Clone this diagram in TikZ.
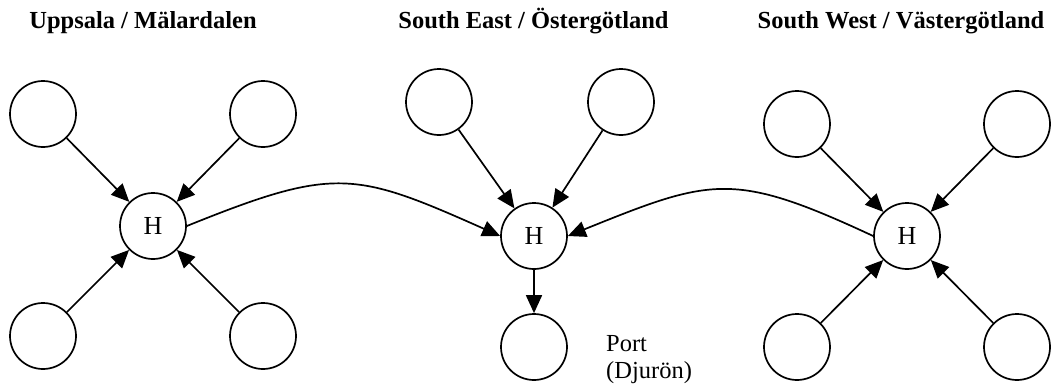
\documentclass[tikz,border=0pt]{standalone}
\usepackage{fontspec}
\setmainfont{Liberation Serif}
\usetikzlibrary{arrows.meta}
\begin{document}
\begin{tikzpicture}[x=1pt,y=-1pt,
  every node/.style={inner sep=0pt},
  ball/.style={circle,draw,line width=1.7pt,minimum size=66pt,inner sep=0pt},
  hub/.style={ball,font=\fontsize{26}{30}\selectfont},
  title/.style={font=\fontsize{24.5}{28}\selectfont\bfseries,anchor=base},
  link/.style={line width=1.7pt,-{Triangle[length=18pt,width=16pt]}},
  lbl/.style={font=\fontsize{24.5}{27}\selectfont,align=left,anchor=north west}]
\useasboundingbox (0,0) rectangle (1060,388);
% titles
\node[title] (t1) at (143,28) {Uppsala / Mälardalen};
\node[title] (t2) at (533.5,28) {South East / Östergötland};
\node[title] (t3) at (901,28) {South West / Västergötland};
% left group
\node[ball] (l1) at (43,114) {};
\node[ball] (l2) at (263,114) {};
\node[ball] (l3) at (43,336) {};
\node[ball] (l4) at (263,336) {};
\node[hub] (hl) at (153,226) {H};
% middle group
\node[ball] (m1) at (439,102) {};
\node[ball] (m2) at (621,102) {};
\node[hub] (hm) at (534,236) {H};
\node[ball] (port) at (534,347) {};
\node[lbl] (plbl) at (606,335) {Port\\(Djurön)};
% right group
\node[ball] (r1) at (797,124) {};
\node[ball] (r2) at (1017,124) {};
\node[ball] (r3) at (797,347) {};
\node[ball] (r4) at (1017,347) {};
\node[hub] (hr) at (907,236) {H};
% connectors
\foreach \n in {l1,l2,l3,l4} \draw[link] (\n) -- (hl);
\foreach \n in {m1,m2} \draw[link] (\n) -- (hm);
\foreach \n in {r1,r2,r3,r4} \draw[link] (\n) -- (hr);
\draw[link] (hm) -- (port);
\draw[link] (hl.east) to[out=22,in=156,looseness=1.3] (hm.west);
\draw[link] (hr.west) to[out=155,in=22,looseness=1.3] (hm.east);
\end{tikzpicture}
\end{document}
